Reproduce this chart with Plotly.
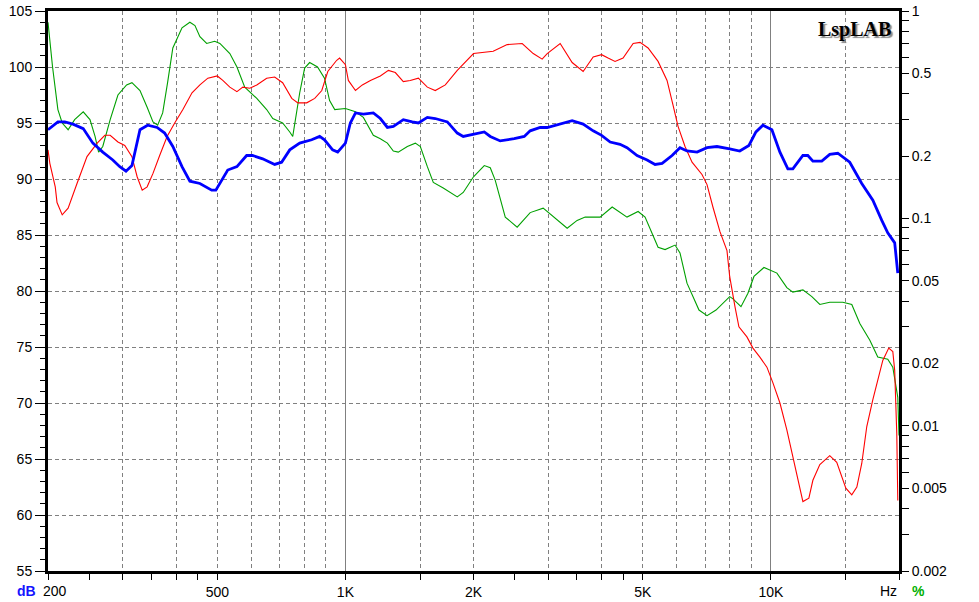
import plotly.graph_objects as go

# frequency response (dB) - blue, thick
blue_hz = [200, 211, 219, 229, 242, 255, 269, 284, 295, 305, 315, 329, 343, 361, 376, 393, 413, 431,
           455, 485, 496, 512, 529, 556, 586, 605, 639, 682, 708, 740, 781, 833, 870, 893, 933, 959,
           1000, 1027, 1056, 1102, 1163, 1208, 1255, 1296, 1368, 1436, 1484, 1558, 1626, 1736, 1832,
           1892, 2000, 2120, 2190, 2311, 2493, 2632, 2718, 2869, 2980, 3249, 3411, 3620, 3822, 4000,
           4190, 4420, 4590, 4847, 5117, 5343, 5550, 5857, 6114, 6350, 6706, 7077, 7468, 8000, 8450,
           8878, 9222, 9577, 10054, 10500, 10960, 11260, 11890, 12210, 12550, 13170, 13750, 14360,
           15320, 16350, 17360, 18220, 18820, 19540, 19870]
blue_db = [94.4, 95.1, 95.1, 94.9, 94.5, 93.2, 92.4, 91.7, 91.1, 90.7, 91.2, 94.4, 94.8, 94.6, 94.1, 92.9,
           91.1, 89.8, 89.6, 89.0, 89.0, 89.9, 90.8, 91.1, 92.1, 92.1, 91.8, 91.3, 91.5, 92.6, 93.2,
           93.5, 93.8, 93.5, 92.6, 92.4, 93.2, 95.0, 95.9, 95.8, 95.9, 95.4, 94.6, 94.7, 95.3, 95.1,
           95.0, 95.5, 95.4, 95.1, 94.1, 93.8, 94.0, 94.2, 93.8, 93.4, 93.6, 93.8, 94.3, 94.6, 94.6,
           95.0, 95.2, 94.9, 94.3, 93.9, 93.3, 93.1, 92.8, 92.1, 91.7, 91.3, 91.4, 92.1, 92.8, 92.5,
           92.4, 92.8, 92.9, 92.7, 92.5, 93.0, 94.2, 94.8, 94.4, 92.4, 90.9, 90.9, 92.1, 92.1, 91.6,
           91.6, 92.2, 92.3, 91.5, 89.6, 88.1, 86.3, 85.2, 84.3, 81.6]

# red curve
red_hz = [200, 202, 208, 210, 216, 223, 234, 244, 247, 261, 272, 280, 292, 303, 315, 324, 333, 342, 353,
          366, 381, 397, 415, 436, 455, 475, 500, 515, 535, 556, 574, 596, 619, 653, 682, 712, 748, 773,
          811, 847, 880, 909, 954, 969, 1000, 1016, 1056, 1096, 1145, 1208, 1262, 1310, 1368, 1420,
          1484, 1558, 1626, 1717, 1832, 2000, 2225, 2400, 2603, 2763, 2900, 2980, 3197, 3411, 3620,
          3822, 4000, 4143, 4302, 4493, 4745, 4926, 5144, 5430, 5700, 5888, 6050, 6283, 6526, 6887,
          7077, 7306, 7590, 7884, 8000, 8232, 8410, 8783, 9073, 9420, 9786, 10110, 10500, 10900,
          11260, 11570, 11890, 12280, 12550, 13030, 13750, 14280, 14760, 15000, 15490, 15920, 16350,
          16800, 17360, 17830, 18320, 18920, 19340, 19540, 19760, 19870]
red_db = [92.6, 91.4, 89.3, 87.9, 86.8, 87.4, 89.6, 91.4, 92.0, 93.2, 93.9, 93.9, 93.3, 93.0, 92.0, 90.2,
          89.0, 89.3, 90.5, 92.1, 93.8, 95.0, 96.2, 97.7, 98.4, 99.0, 99.2, 98.8, 98.2, 97.8, 98.2, 98.1,
          98.4, 99.0, 99.1, 98.6, 97.2, 96.8, 96.8, 97.2, 97.9, 99.6, 100.6, 100.8, 100.2, 98.8, 97.9,
          98.4, 98.8, 99.2, 99.7, 99.5, 98.7, 98.8, 99.0, 98.2, 97.9, 98.4, 99.7, 101.2, 101.4, 102.0,
          102.1, 101.2, 100.7, 101.2, 102.1, 100.4, 99.6, 100.9, 101.1, 100.8, 100.5, 100.8, 102.1,
          102.2, 101.7, 100.5, 98.8, 96.6, 94.7, 92.9, 91.5, 90.4, 89.5, 87.5, 85.3, 83.6, 81.3, 78.6,
          76.8, 75.9, 74.9, 74.1, 73.2, 71.8, 70.0, 67.6, 65.2, 63.1, 61.2, 61.5, 63.1, 64.5, 65.3,
          64.7, 63.1, 62.4, 61.8, 62.5, 64.6, 67.9, 70.3, 72.0, 73.8, 74.9, 74.6, 72.9, 67.3, 61.3]

# green curve
green_hz = [200, 205, 211, 216, 223, 231, 242, 251, 258, 263, 269, 280, 292, 306, 315, 329, 342, 353, 362,
            372, 382, 393, 413, 431, 443, 455, 472, 493, 507, 535, 556, 580, 619, 653, 675, 712, 740,
            752, 781, 802, 824, 860, 893, 918, 944, 1000, 1056, 1102, 1163, 1208, 1255, 1296, 1331,
            1398, 1460, 1500, 1558, 1609, 1698, 1832, 1892, 2000, 2120, 2190, 2249, 2375, 2533, 2718,
            2916, 2980, 3197, 3320, 3504, 3660, 3968, 4236, 4590, 4874, 5061, 5200, 5430, 5640, 5953,
            6114, 6350, 6776, 7077, 7430, 7842, 8000, 8145, 8505, 8831, 9123, 9630, 10330, 10900,
            11260, 11890, 12480, 13030, 13750, 14760, 15490, 16180, 17080, 17830, 18820, 19340,
            19650, 19870, 20000]
green_db = [104.0, 100.0, 96.2, 95.0, 94.4, 95.3, 96.0, 95.3, 93.8, 92.4, 92.9, 95.3, 97.5, 98.4, 98.6,
            97.9, 96.4, 95.1, 94.8, 95.9, 98.6, 101.7, 103.5, 104.0, 103.7, 102.7, 102.1, 102.3,
            102.1, 101.2, 100.0, 98.2, 97.2, 96.2, 95.4, 95.0, 94.2, 93.8, 97.7, 99.9, 100.4, 100.0,
            99.0, 97.0, 96.2, 96.3, 96.0, 95.5, 93.9, 93.6, 93.2, 92.5, 92.4, 92.9, 93.2, 92.9, 91.1,
            89.7, 89.2, 88.4, 88.8, 90.2, 91.2, 91.0, 89.9, 86.6, 85.7, 87.0, 87.4, 87.1, 86.1, 85.6,
            86.3, 86.6, 86.6, 87.5, 86.6, 87.1, 86.6, 85.6, 83.9, 83.7, 84.1, 83.4, 80.7, 78.3, 77.8,
            78.3, 79.2, 79.5, 79.3, 78.6, 79.8, 81.3, 82.1, 81.6, 80.3, 79.9, 80.1, 79.5, 78.8, 79.0,
            79.0, 78.8, 77.1, 75.6, 74.1, 73.9, 73.2, 71.8, 70.5, 67.1]

# axis ticks / grid
x_tick_hz = [200, 250, 300, 350, 400, 450, 500, 1000, 1500, 2000, 2500, 3000, 3500, 4000, 4500, 5000,
             10000, 15000, 20000]
x_label_map = {500: "500", 1000: "1K", 2000: "2K", 5000: "5K", 10000: "10K"}
grid_dashed_hz = [300, 400, 500, 600, 700, 800, 900, 1500, 2000, 3000, 4000, 5000, 6000, 7000, 8000,
                  9000, 15000]
grid_solid_hz = [1000, 10000]
pct_ticks = [m * 10 ** e for e in (-3, -2, -1) for m in range(1, 10)] + [1]
pct_ticks = [v for v in pct_ticks if v >= 0.002]
pct_labels = {0.002: "0.002", 0.005: "0.005", 0.01: "0.01", 0.02: "0.02", 0.05: "0.05",
              0.1: "0.1", 0.2: "0.2", 0.5: "0.5", 1: "1"}

FONT = "Liberation Sans, Arial, sans-serif"
GRID = "#808080"
xr = [2.30103, 4.30103]

fig = go.Figure()
fig.add_trace(go.Scatter(x=green_hz, y=green_db, mode="lines", line=dict(color="#00A000", width=1.1),
                         hoverinfo="skip"))
fig.add_trace(go.Scatter(x=red_hz, y=red_db, mode="lines", line=dict(color="#FF0000", width=1.1),
                         hoverinfo="skip"))
fig.add_trace(go.Scatter(x=blue_hz, y=blue_db, mode="lines", line=dict(color="#0000FF", width=2.8),
                         hoverinfo="skip"))
# empty traces so the helper axes get drawn
fig.add_trace(go.Scatter(x=[], y=[], xaxis="x2", yaxis="y", showlegend=False))
fig.add_trace(go.Scatter(x=[], y=[], xaxis="x3", yaxis="y", showlegend=False))
fig.add_trace(go.Scatter(x=[], y=[], xaxis="x", yaxis="y2", showlegend=False))

fig.update_layout(
    width=979, height=602,
    margin=dict(l=48, r=80, t=11, b=31, autoexpand=False),
    paper_bgcolor="white", plot_bgcolor="white",
    showlegend=False,
    font=dict(family=FONT, size=14, color="black"),
    xaxis=dict(
        type="log", range=xr, automargin=False,
        tickmode="array", tickvals=x_tick_hz,
        ticktext=[x_label_map.get(v, "") for v in x_tick_hz],
        ticks="outside", ticklen=6, tickwidth=1, tickcolor="black",
        showgrid=False, zeroline=False,
        showline=True, linewidth=3, linecolor="black", mirror=True,
        tickfont=dict(family=FONT, size=14, color="black"),
    ),
    xaxis2=dict(
        type="log", range=xr, overlaying="x", anchor="y", automargin=False,
        tickmode="array", tickvals=grid_dashed_hz, showticklabels=False, ticks="",
        showgrid=True, gridcolor=GRID, gridwidth=1, griddash="4px,3px",
        showline=False, zeroline=False,
    ),
    xaxis3=dict(
        type="log", range=xr, overlaying="x", anchor="y", automargin=False,
        tickmode="array", tickvals=grid_solid_hz, showticklabels=False, ticks="",
        showgrid=True, gridcolor=GRID, gridwidth=1,
        showline=False, zeroline=False,
    ),
    yaxis=dict(
        range=[55, 105], tickmode="linear", tick0=55, dtick=5, automargin=False,
        ticks="outside", ticklen=10, tickwidth=1, tickcolor="black",
        minor=dict(dtick=1, ticks="outside", ticklen=5, tickcolor="black", showgrid=False),
        showgrid=True, gridcolor=GRID, gridwidth=1, griddash="4px,3px",
        zeroline=False,
        showline=True, linewidth=3, linecolor="black", mirror=True,
        tickfont=dict(family=FONT, size=14, color="black"),
    ),
    yaxis2=dict(
        type="log", range=[-2.69897, 0], overlaying="y", side="right", anchor="x", automargin=False,
        tickmode="array", tickvals=pct_ticks,
        ticktext=[pct_labels.get(round(v, 4), "") for v in pct_ticks],
        ticks="outside", ticklen=9, tickwidth=1, tickcolor="black",
        showgrid=False, zeroline=False, showline=False,
        tickfont=dict(family=FONT, size=14, color="black"),
    ),
)

# axis caption texts
fig.add_annotation(text="<b>dB</b>", xref="paper", yref="paper", x=0, y=0, xanchor="right",
                   yanchor="top", xshift=-10, yshift=-10, showarrow=False,
                   font=dict(family=FONT, size=14, color="#1414FF"))
fig.add_annotation(text="200", xref="paper", yref="paper", x=0, y=0, xanchor="left",
                   yanchor="top", xshift=-7, yshift=-10, showarrow=False,
                   font=dict(family=FONT, size=14, color="black"))
fig.add_annotation(text="Hz", xref="paper", yref="paper", x=1, y=0, xanchor="right",
                   yanchor="top", xshift=0, yshift=-10, showarrow=False,
                   font=dict(family=FONT, size=14, color="black"))
fig.add_annotation(text="<b>%</b>", xref="paper", yref="paper", x=1, y=0, xanchor="left",
                   yanchor="top", xshift=11, yshift=-10, showarrow=False,
                   font=dict(family=FONT, size=14, color="#00B000"))

# LspLAB watermark with grey shadow
fig.add_annotation(text="<b>LspLAB</b>", xref="paper", yref="paper", x=1, y=1,
                   xanchor="right", yanchor="top", xshift=-6, yshift=-5, showarrow=False,
                   font=dict(family="Liberation Serif, Times New Roman, serif", size=20,
                             color="black", shadow="2px 2px 1px #8a8a8a"))

# page has a default 8px body margin; drop it so the chart fills the window
fig.write_html("out.html", config={"displayModeBar": False},
               post_script="document.body.style.margin='0';")
